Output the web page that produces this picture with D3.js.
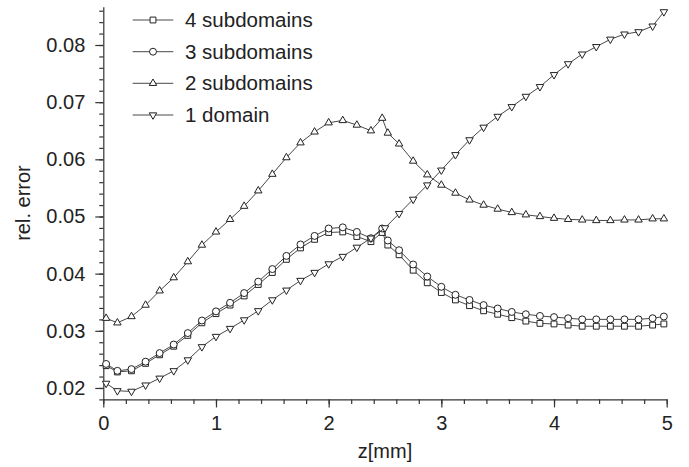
<!DOCTYPE html>
<html>
<head>
<meta charset="utf-8">
<script src="https://cdn.jsdelivr.net/npm/d3@7"></script>
<style>
  html, body { margin: 0; padding: 0; background: #fff; }
  svg { display: block; }
  text { font-family: "Liberation Sans", Arial, Helvetica, sans-serif; fill: #222; }
</style>
</head>
<body>
<svg id="chart" width="689" height="467"></svg>
<script>
// ---- data ----
const zSplit = [0.025, 0.125, 0.25, 0.375, 0.5, 0.625, 0.75, 0.875, 1.0,
  1.125, 1.25, 1.375, 1.5, 1.625, 1.75, 1.875, 2.0,
  2.125, 2.25, 2.375, 2.475, 2.525,
  2.625, 2.75, 2.875, 3.0,
  3.125, 3.25, 3.375, 3.5, 3.625, 3.75, 3.875, 4.0,
  4.125, 4.25, 4.375, 4.5, 4.625, 4.75, 4.875, 4.975];
const zSingle = [0.025, 0.125, 0.25, 0.375, 0.5, 0.625, 0.75, 0.875, 1.0,
  1.125, 1.25, 1.375, 1.5, 1.625, 1.75, 1.875, 2.0,
  2.125, 2.25, 2.375, 2.5,
  2.625, 2.75, 2.875, 3.0,
  3.125, 3.25, 3.375, 3.5, 3.625, 3.75, 3.875, 4.0,
  4.125, 4.25, 4.375, 4.5, 4.625, 4.75, 4.875, 4.975];

const sub4 = [0.0239, 0.0228, 0.0230, 0.0243, 0.0258, 0.0273, 0.0292, 0.0314, 0.0330,
  0.0345, 0.0361, 0.0381, 0.0402, 0.0425, 0.0445, 0.0460, 0.0472,
  0.0473, 0.0465, 0.0456, 0.0472, 0.0450,
  0.0433, 0.0406, 0.0384, 0.0367,
  0.0354, 0.0344, 0.0335, 0.0329, 0.0323, 0.0317, 0.0313, 0.0312,
  0.0310, 0.0308, 0.0308, 0.0308, 0.0308, 0.0308, 0.0310, 0.0312];
const sub3 = [0.0242, 0.0230, 0.0233, 0.0246, 0.0261, 0.0276, 0.0296, 0.0318, 0.0334,
  0.0349, 0.0366, 0.0386, 0.0408, 0.0431, 0.0451, 0.0466, 0.0479,
  0.0481, 0.0473, 0.0462, 0.0479, 0.0458,
  0.0441, 0.0416, 0.0395, 0.0377,
  0.0363, 0.0354, 0.0345, 0.0339, 0.0333, 0.0329, 0.0326, 0.0324,
  0.0322, 0.0320, 0.0320, 0.0320, 0.0320, 0.0320, 0.0322, 0.0325];
const sub2 = [0.0322, 0.0314, 0.0325, 0.0345, 0.0370, 0.0393, 0.0421, 0.0450, 0.0473,
  0.0495, 0.0518, 0.0545, 0.0574, 0.0603, 0.0629, 0.0648, 0.0664,
  0.0668, 0.0660, 0.0650, 0.0672, 0.0646,
  0.0627, 0.0597, 0.0573, 0.0555,
  0.0541, 0.0529, 0.0520, 0.0513, 0.0507, 0.0503, 0.0500, 0.0497,
  0.0495, 0.0494, 0.0493, 0.0493, 0.0494, 0.0494, 0.0496, 0.0496];
const dom1 = [0.0208, 0.0195, 0.0194, 0.0205, 0.0217, 0.0230, 0.0249, 0.0272, 0.0290,
  0.0304, 0.0319, 0.0335, 0.0354, 0.0371, 0.0388, 0.0402, 0.0417,
  0.0430, 0.0446, 0.0462, 0.0480,
  0.0505, 0.0530, 0.0555, 0.0581,
  0.0608, 0.0634, 0.0656, 0.0675, 0.0692, 0.0710, 0.0727, 0.0748,
  0.0767, 0.0784, 0.0797, 0.0810, 0.0819, 0.0823, 0.0833, 0.0858];

const seriesNames = ["4 subdomains", "3 subdomains", "2 subdomains", "1 domain"];
const xTicks = [0, 1, 2, 3, 4, 5];
const yTicks = [0.02, 0.03, 0.04, 0.05, 0.06, 0.07, 0.08];
const xLabel = "z[mm]";
const yLabel = "rel. error";

// ---- layout ----
const svg = d3.select("#chart");
const x = d3.scaleLinear().domain([0, 5]).range([103.3, 666.7]);
const y = d3.scaleLinear().domain([0.018, 0.0867]).range([399.4, 6.7]);
const ink = "#222";

const series = [
  { name: seriesNames[0], z: zSplit, v: sub4, sym: d3.symbolSquare, size: 34, rot: 0 },
  { name: seriesNames[1], z: zSplit, v: sub3, sym: d3.symbolCircle, size: 38, rot: 0 },
  { name: seriesNames[2], z: zSplit, v: sub2, sym: d3.symbolTriangle, size: 24, rot: 0 },
  { name: seriesNames[3], z: zSingle, v: dom1, sym: d3.symbolTriangle, size: 24, rot: 180 }
];

// axes
const fmtY = d3.format(".2f");
const yMinor = d3.range(0.018, 0.0867, 0.002);
const xMinor = d3.range(0, 5.0001, 0.2);

const gy = svg.append("g").attr("transform", `translate(${x(0)},0)`);
gy.call(d3.axisLeft(y).tickValues(yMinor).tickSize(4).tickSizeOuter(0).tickFormat(""));
gy.append("g").call(d3.axisLeft(y).tickValues(yTicks).tickSize(8).tickSizeOuter(0).tickFormat(fmtY))
  .call(g => g.select(".domain").remove());
gy.selectAll("path, line").attr("stroke", "#333").attr("stroke-width", 1.2);
gy.selectAll("text").attr("font-size", 20).attr("fill", ink).attr("x", -18)
  .style("font-family", '"Liberation Sans", Arial, sans-serif');

const gx = svg.append("g").attr("transform", `translate(0,${y(0.018)})`);
gx.call(d3.axisBottom(x).tickValues(xMinor).tickSize(4.5).tickSizeOuter(0).tickFormat(""));
gx.append("g").call(d3.axisBottom(x).tickValues(xTicks).tickSize(8).tickSizeOuter(0).tickFormat(d3.format("d")))
  .call(g => g.select(".domain").remove());
gx.selectAll("path, line").attr("stroke", "#333").attr("stroke-width", 1.2);
gx.selectAll("text").attr("font-size", 20).attr("fill", ink).attr("y", 16)
  .style("font-family", '"Liberation Sans", Arial, sans-serif');

// axis labels
svg.append("text").attr("x", (x(0) + x(5)) / 2).attr("y", 458)
  .attr("text-anchor", "middle").attr("font-size", 20).text(xLabel);
svg.append("text").attr("transform", `translate(30,${(y.range()[0] + y.range()[1]) / 2}) rotate(-90)`)
  .attr("text-anchor", "middle").attr("font-size", 20).text(yLabel);

// series
const line = d3.line().x(d => x(d[0])).y(d => y(d[1]));
series.forEach(s => {
  const pts = s.z.map((z, i) => [z, s.v[i]]);
  svg.append("path").datum(pts).attr("d", line)
    .attr("fill", "none").attr("stroke", "#333").attr("stroke-width", 0.9);
  svg.append("g").selectAll("path").data(pts).join("path")
    .attr("d", d3.symbol().type(s.sym).size(s.size))
    .attr("transform", d => `translate(${x(d[0])},${y(d[1])}) rotate(${s.rot})`)
    .attr("fill", "#fff").attr("stroke", ink).attr("stroke-width", 1);
});

// legend
const legY = [20, 51.7, 83.3, 115];
const lg = svg.append("g");
series.forEach((s, i) => {
  const g = lg.append("g").attr("transform", `translate(0,${legY[i]})`);
  g.append("line").attr("x1", 132.7).attr("x2", 173.3).attr("y1", 0).attr("y2", 0)
    .attr("stroke", "#333").attr("stroke-width", 0.9);
  g.append("path").attr("d", d3.symbol().type(s.sym).size(s.size))
    .attr("transform", `translate(153,0) rotate(${s.rot})`)
    .attr("fill", "#fff").attr("stroke", ink).attr("stroke-width", 1);
  g.append("text").attr("x", 185).attr("y", 0).attr("dy", "0.35em")
    .attr("font-size", 20.5).text(s.name);
});
</script>
</body>
</html>
